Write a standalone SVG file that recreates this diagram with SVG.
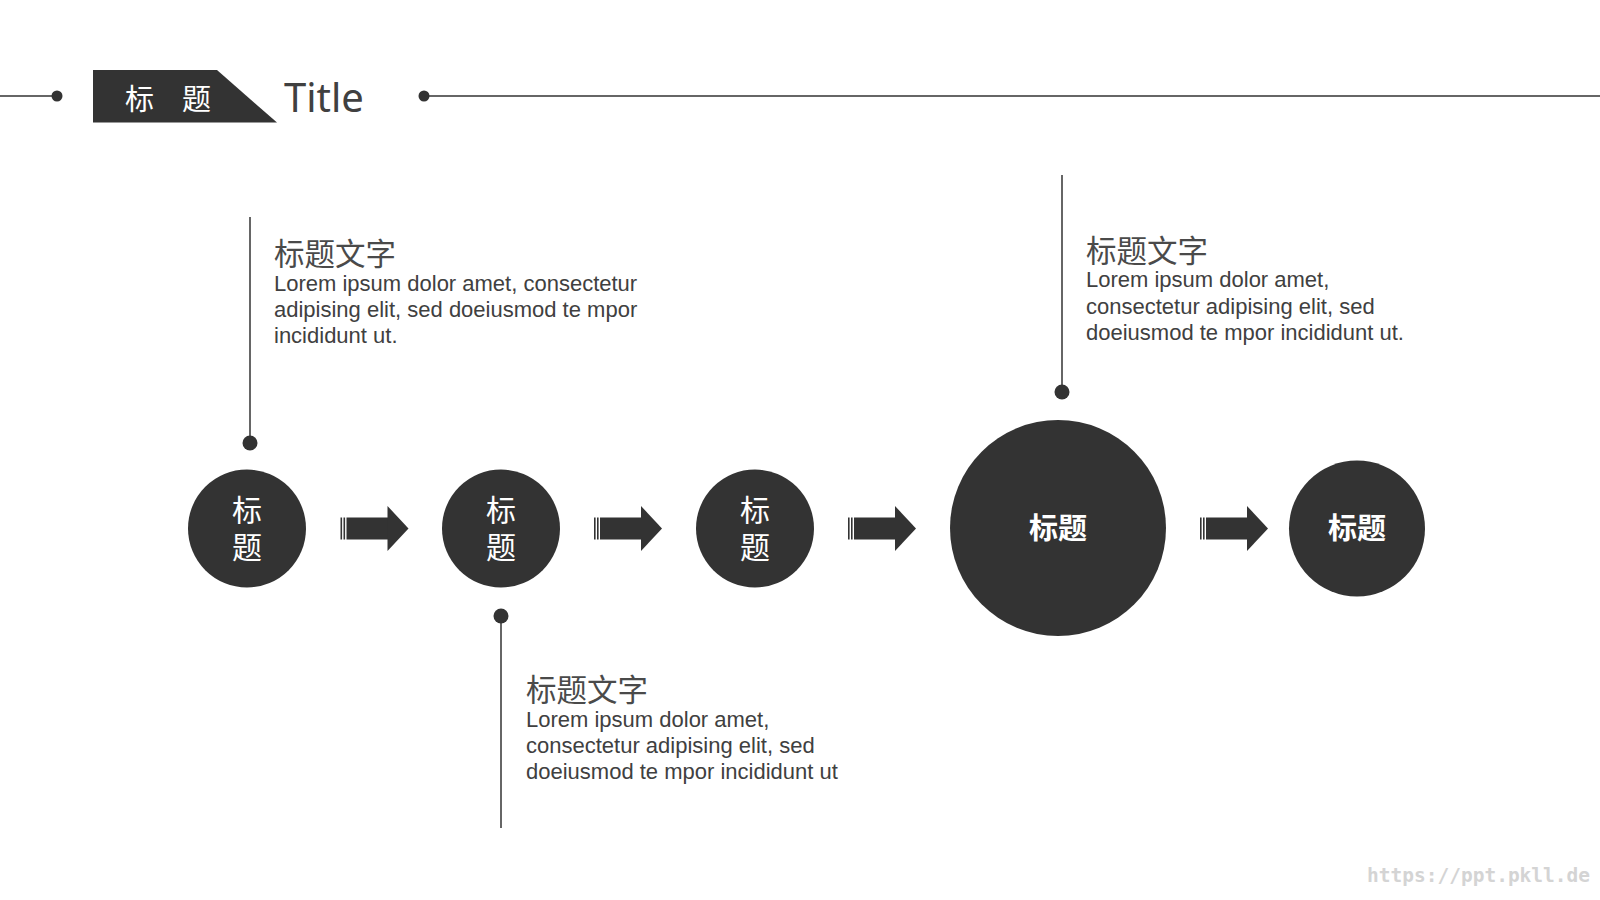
<svg xmlns="http://www.w3.org/2000/svg" xmlns:xlink="http://www.w3.org/1999/xlink" width="1600" height="900" viewBox="0 0 1600 900">
<style>
.ln{stroke:#333;stroke-width:1.5;fill:none}
.dk{fill:#333}
.cj{font-family:"Noto Sans CJK SC","Noto Sans",sans-serif}
.wt{fill:#fff;font-size:30px;text-anchor:middle;writing-mode:vertical-rl;letter-spacing:7px}
.bd{fill:#fff;font-size:29px;font-weight:bold;text-anchor:middle}
.ht{fill:#4a4a4a;font-size:30.5px}
.bt{font-family:"Liberation Sans",Arial,sans-serif;font-size:22px;fill:#404040}
</style>
<defs>
<g id="arrow">
<rect x="0" y="-11" width="1.6" height="22" class="dk"/>
<rect x="3" y="-11" width="1.6" height="22" class="dk"/>
<rect x="6" y="-11" width="42" height="22" class="dk"/>
<polygon points="47,-22.5 68,0 47,22.5" class="dk"/>
</g>
</defs>
<rect width="1600" height="900" fill="#fff"/>

<g id="header">
<line x1="0" y1="96" x2="57" y2="96" class="ln"/>
<circle cx="57" cy="96" r="5.5" class="dk"/>
<polygon points="93,70 217,70 277,122.5 93,122.5" class="dk"/>
<text x="125" y="110" class="cj" fill="#fff" font-size="29">标</text>
<text x="182" y="110" class="cj" fill="#fff" font-size="29">题</text>
<text x="284" y="112" font-family="Noto Sans,Open Sans,sans-serif" font-size="40" fill="#404040">Title</text>
<circle cx="424" cy="96" r="5.5" class="dk"/>
<line x1="424" y1="96" x2="1600" y2="96" class="ln"/>
</g>

<g id="connectors">
<use xlink:href="#arrow" x="340.5" y="528.5"/>
<use xlink:href="#arrow" x="594" y="528.5"/>
<use xlink:href="#arrow" x="848" y="528.5"/>
<use xlink:href="#arrow" x="1200" y="528.5"/>
<line x1="250" y1="217" x2="250" y2="443" class="ln"/>
<circle cx="250" cy="443" r="7.5" class="dk"/>
<line x1="501" y1="616" x2="501" y2="828" class="ln"/>
<circle cx="501" cy="616" r="7.5" class="dk"/>
<line x1="1062" y1="175" x2="1062" y2="392" class="ln"/>
<circle cx="1062" cy="392" r="7.5" class="dk"/>
</g>

<g id="node1">
<circle cx="247" cy="528.5" r="59" class="dk"/>
<text x="247" y="532" class="cj wt">标题</text>
</g>
<g id="node2">
<circle cx="501" cy="528.5" r="59" class="dk"/>
<text x="501" y="532" class="cj wt">标题</text>
</g>
<g id="node3">
<circle cx="755" cy="528.5" r="59" class="dk"/>
<text x="755" y="532" class="cj wt">标题</text>
</g>
<g id="node4">
<circle cx="1058" cy="528" r="108" class="dk"/>
<text x="1058" y="539" class="cj bd">标题</text>
</g>
<g id="node5">
<circle cx="1357" cy="528.5" r="68" class="dk"/>
<text x="1357" y="539" class="cj bd">标题</text>
</g>

<g id="callout1">
<text x="274" y="265" class="cj ht">标题文字</text>
<text class="bt"><tspan x="274" y="291">Lorem ipsum dolor amet, consectetur</tspan><tspan x="274" y="317">adipising elit, sed doeiusmod te mpor</tspan><tspan x="274" y="343">incididunt ut.</tspan></text>
</g>
<g id="callout2">
<text x="1086" y="262" class="cj ht">标题文字</text>
<text class="bt"><tspan x="1086" y="287">Lorem ipsum dolor amet,</tspan><tspan x="1086" y="314">consectetur adipising elit, sed</tspan><tspan x="1086" y="340">doeiusmod te mpor incididunt ut.</tspan></text>
</g>
<g id="callout3">
<text x="526" y="701" class="cj ht">标题文字</text>
<text class="bt"><tspan x="526" y="727">Lorem ipsum dolor amet,</tspan><tspan x="526" y="753">consectetur adipising elit, sed</tspan><tspan x="526" y="779">doeiusmod te mpor incididunt ut</tspan></text>
</g>

<text x="1367" y="882" font-family="DejaVu Sans Mono,monospace" font-size="19.5" font-weight="bold" fill="#d4d4d4">https://ppt.pkll.de</text>
</svg>
